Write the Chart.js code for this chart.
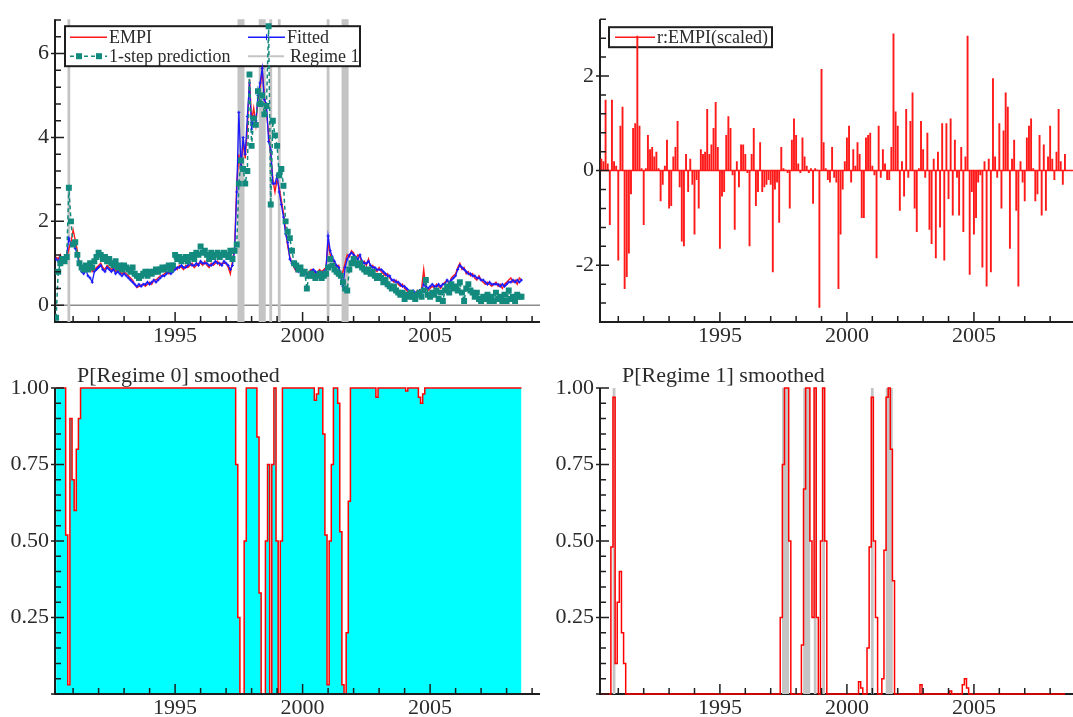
<!DOCTYPE html>
<html>
<head>
<meta charset="utf-8">
<title>EMPI regime-switching model</title>
<script src="https://cdn.jsdelivr.net/npm/chart.js@4.4.1/dist/chart.umd.min.js"></script>
<style>
  html, body { margin: 0; padding: 0; background: #fff; }
  #wrap { position: relative; width: 1073px; height: 717px; overflow: hidden; }
  #wrap canvas { position: absolute; display: block; }
</style>
</head>
<body>
<div id="wrap">
  <canvas id="c1" width="545" height="352" style="left:0;top:0"></canvas>
  <canvas id="c2" width="528" height="352" style="left:545px;top:0"></canvas>
  <canvas id="c3" width="545" height="362" style="left:0;top:355px"></canvas>
  <canvas id="c4" width="528" height="362" style="left:545px;top:355px"></canvas>
</div>
<script>
// Monthly observations, May 1990 .. Aug 2008
const startYear = 1990;
const startMonth = 5;

const empi = [
  1.15, 1.1, 1.2, 1.05, 1.15, 1.1, 1.35, 1.5,
  1.8, 1.55, 1.3, 1.0, 0.85, 0.8, 0.9, 0.85, 0.95, 0.8, 0.85, 0.9,
  0.95, 1.0, 0.9, 0.85, 0.95, 0.9, 0.85, 0.9, 0.8, 0.85, 0.8, 0.75,
  0.8, 0.75, 0.7, 0.65, 0.6, 0.5, 0.42, 0.45, 0.48, 0.5, 0.45, 0.5,
  0.55, 0.5, 0.6, 0.6, 0.65, 0.7, 0.7, 0.75, 0.8, 0.75, 0.8, 0.85,
  0.9, 0.85, 0.95, 0.9, 0.85, 0.95, 0.9, 0.95, 1.0, 0.9, 0.95, 1.0,
  1.0, 0.95, 1.05, 0.95, 0.9, 1.0, 0.95, 1.0, 1.05, 0.95, 1.0, 1.0,
  1.0, 0.9, 0.75, 1.05, 1.35, 2.9, 3.6, 3.2, 3.9, 3.5, 4.2, 5.4,
  4.4, 4.7, 4.3, 4.9, 5.2, 5.6, 5.0, 4.6, 4.1, 3.6, 3.0, 2.7,
  3.0, 2.8, 2.5, 2.2, 1.8, 1.4, 1.15, 1.0, 0.9, 0.8, 0.85, 0.9,
  0.8, 0.85, 0.75, 0.8, 0.85, 0.8, 0.75, 0.8, 0.85, 0.8, 0.85, 0.9,
  1.5, 1.2, 1.1, 1.0, 0.9, 0.95, 0.7, 0.8, 1.0, 1.2, 1.15, 1.3,
  1.25, 1.1, 1.2, 1.15, 1.0, 1.05, 0.95, 1.1, 0.9, 0.95, 0.85, 0.8,
  0.9, 0.8, 0.75, 0.7, 0.75, 0.65, 0.6, 0.55, 0.6, 0.5, 0.45, 0.5,
  0.4, 0.35, 0.3, 0.35, 0.3, 0.25, 0.35, 0.3, 0.4, 0.85, 0.4, 0.35,
  0.4, 0.45, 0.4, 0.5, 0.45, 0.4, 0.5, 0.55, 0.6, 0.5, 0.65, 0.7,
  0.75, 0.9, 1.0, 0.85, 0.9, 0.75, 0.8, 0.7, 0.75, 0.65, 0.6, 0.7,
  0.6, 0.55, 0.5, 0.55, 0.5, 0.45, 0.5, 0.55, 0.45, 0.5, 0.4, 0.5,
  0.55, 0.6, 0.65, 0.55, 0.6, 0.5, 0.65, 0.6
];

const fitted = [
  1.1, 1.05, 1.15, 1.0, 1.1, 1.2, 1.6, 1.45,
  1.5, 1.35, 1.2, 0.95, 0.8, 0.75, 0.85, 0.7, 0.65, 0.55, 0.8, 0.85,
  0.9, 0.95, 0.85, 0.8, 0.9, 0.85, 0.8, 0.85, 0.75, 0.8, 0.75, 0.7,
  0.75, 0.7, 0.65, 0.6, 0.55, 0.5, 0.45, 0.5, 0.45, 0.5, 0.5, 0.55,
  0.5, 0.55, 0.6, 0.55, 0.6, 0.65, 0.7, 0.7, 0.75, 0.8, 0.75, 0.8,
  0.85, 0.9, 0.9, 0.95, 0.9, 0.9, 0.95, 1.0, 0.95, 0.95, 1.0, 0.95,
  1.05, 1.0, 1.0, 1.0, 0.95, 0.95, 1.0, 1.05, 1.0, 1.0, 0.95, 1.05,
  1.0, 0.95, 0.85, 0.95, 1.3, 2.7, 4.6, 3.3, 4.0, 3.6, 4.5, 5.3,
  4.2, 4.5, 4.4, 5.0, 5.3, 5.65, 4.9, 4.8, 3.9, 3.7, 2.9, 2.9,
  3.1, 2.7, 2.4, 2.1, 1.7, 1.5, 1.1, 1.0, 0.95, 0.85, 0.8, 0.9,
  0.85, 0.8, 0.7, 0.75, 0.8, 0.85, 0.8, 0.75, 0.8, 0.75, 0.8, 0.85,
  1.65, 1.3, 1.15, 1.05, 0.95, 0.9, 0.75, 0.45, 0.9, 1.1, 1.2, 1.25,
  1.2, 1.15, 1.1, 1.2, 1.05, 1.0, 1.0, 1.05, 0.95, 0.9, 0.9, 0.85,
  0.85, 0.85, 0.8, 0.75, 0.7, 0.7, 0.6, 0.6, 0.55, 0.55, 0.5, 0.45,
  0.45, 0.4, 0.35, 0.3, 0.35, 0.3, 0.3, 0.35, 0.35, 0.5, 0.45, 0.4,
  0.45, 0.5, 0.45, 0.45, 0.5, 0.45, 0.5, 0.5, 0.6, 0.55, 0.6, 0.65,
  0.7, 0.85, 0.95, 0.9, 0.85, 0.8, 0.75, 0.75, 0.7, 0.7, 0.65, 0.65,
  0.6, 0.6, 0.55, 0.5, 0.55, 0.5, 0.5, 0.5, 0.5, 0.45, 0.5, 0.45,
  0.5, 0.55, 0.55, 0.6, 0.55, 0.6, 0.55, 0.6
];

const prediction = [
  -0.3, 0.8, 1.0, 1.1, 1.05, 1.15, 2.8, 2.0,
  1.45, 1.5, 1.2, 1.0, 0.9, 0.85, 0.95, 0.85, 1.0, 0.9, 1.05, 1.15,
  1.25, 1.2, 1.1, 1.15, 1.05, 1.1, 1.0, 0.95, 1.05, 0.9, 0.95, 0.85,
  0.95, 0.9, 0.85, 0.8, 0.9, 0.75, 0.7, 0.65, 0.7, 0.75, 0.8, 0.7,
  0.8, 0.75, 0.8, 0.85, 0.8, 0.85, 0.9, 0.85, 0.9, 0.95, 0.85, 0.95,
  1.2, 1.1, 1.15, 1.05, 1.1, 1.15, 1.05, 1.15, 1.2, 1.1, 1.25, 1.2,
  1.4, 1.25, 1.3, 1.2, 1.1, 1.25, 1.15, 1.2, 1.25, 1.15, 1.2, 1.25,
  1.2, 1.15, 1.3, 1.1, 1.3, 1.45, 2.9, 3.45, 3.25, 2.9, 3.2, 5.5,
  3.8, 4.45, 4.3, 5.1, 4.8, 5.0, 4.55, 4.75, 6.65, 2.4, 4.4, 4.05,
  3.8, 3.1, 3.25, 2.85, 2.0, 1.75, 1.6, 1.3, 1.0, 0.95, 0.85, 0.9,
  0.75, 0.8, 0.4, 0.7, 0.75, 0.7, 0.65, 0.7, 0.75, 0.65, 0.7, 0.75,
  0.9, 1.1, 0.95, 0.85, 0.8, 0.75, 0.7, 0.55, 0.4, 0.35, 0.85, 1.0,
  1.1, 1.0, 0.95, 1.0, 0.9, 0.85, 0.8, 0.85, 0.75, 0.8, 0.7, 0.65,
  0.7, 0.65, 0.55, 0.6, 0.5, 0.45, 0.4, 0.45, 0.35, 0.3, 0.25, 0.3,
  0.15, 0.25, 0.2, 0.3, 0.2, 0.15, 0.25, 0.3, 0.2, 0.35, 0.6, 0.25,
  0.2, 0.3, 0.25, 0.35, 0.15, 0.3, 0.1, 0.35, 0.45, 0.3, 0.5, 0.4,
  0.45, 0.35, 0.55, 0.3, 0.1, 0.4, 0.5, 0.35, 0.3, 0.2, 0.3, 0.15,
  0.1, 0.2, 0.15, 0.25, 0.1, 0.2, 0.1, 0.3, 0.15, 0.2, 0.1, 0.25,
  0.1, 0.35, 0.15, 0.2, 0.1, 0.25, 0.2, 0.2
];

const residual = [
  0.25, 0.2, 1.5, 0.15, -1.15, 1.5, 0.2, 0.1,
  -1.9, 0.95, 1.35, -2.5, -2.25, -1.75, -0.5, 0.9, 1.0, 2.85, 0.95, 0.05,
  -1.15, 0.05, 0.75, 0.45, 0.5, 0.3, 0.4, 0.05, -0.65, -0.3, 0.1, 0.65,
  -0.8, -0.75, 0.3, 0.5, 1.05, -0.35, -1.5, -1.6, 0.35, -0.45, 0.25, -0.3,
  -1.35, -0.2, -0.8, 0.45, 0.35, 0.4, 1.3, 0.35, 0.55, 0.9, 1.45, 0.5,
  -1.65, -0.55, -0.45, 0.75, 1.15, 0.9, -0.1, -1.25, 0.2, -0.35, 0.55, 0.55,
  0.35, -0.05, -1.6, 0.35, 0.9, -0.75, -0.45, 0.6, -0.45, -0.35, -0.3, -0.2,
  -0.3, -2.15, -0.4, -0.25, -1.1, 0.5, 0.05, 0.02, -0.05, -0.8, 0.65, 1.1,
  0.75, 0.15, -0.05, 0.7, 0.3, 0.1, -0.05, 0.05, -0.7, 0.05, 0.02, -2.9,
  2.15, 0.6, 0.05, -0.2, -0.25, 0.5, -0.15, -0.25, -2.5, -1.35, -0.4, 0.2,
  0.7, 0.95, -0.25, 0.45, 0.1, 0.6, 0.35, -1.0, -1.0, 0.7, 0.75, 0.8,
  0.1, -0.1, -1.85, 0.95, -0.15, 0.45, 0.15, -0.2, -0.2, 0.5, 2.9, 1.25,
  0.95, -0.85, 0.2, -0.55, 1.3, -0.15, 1.05, 1.65, -0.8, -1.3, 0.05, 1.05,
  0.45, -0.15, 0.8, -1.25, -1.55, 0.25, -1.85, 0.4, -1.2, 1.0, -1.9, 1.0,
  -0.6, 1.1, -0.95, 0.65, -0.15, -0.95, 0.5, -1.3, 0.3, 2.85, -2.2, -0.45,
  -1.35, -1.0, -0.25, -0.1, -2.05, 0.2, -2.45, 0.25, -2.15, 1.95, 0.3, -0.15,
  1.0, -0.8, 0.85, 1.65, 1.35, -1.65, 0.25, 0.65, -0.85, -2.45, 0.2, -0.25,
  -0.65, 0.7, 0.95, 1.1, 0.05, -0.65, -0.5, 0.75, -0.95, 0.55, -0.85, 0.3,
  0.95, 0.25, -0.2, 0.4, 1.3, 0.2, -0.3, 0.35
];

const pRegime0 = [
  1, 1, 1, 1, 1, 0.52, 0.03, 0.9,
  0.7, 0.6, 0.8, 0.9, 1, 1, 1, 1, 1, 1, 1, 1,
  1, 1, 1, 1, 1, 1, 1, 1, 1, 1, 1, 1,
  1, 1, 1, 1, 1, 1, 1, 1, 1, 1, 1, 1,
  1, 1, 1, 1, 1, 1, 1, 1, 1, 1, 1, 1,
  1, 1, 1, 1, 1, 1, 1, 1, 1, 1, 1, 1,
  1, 1, 1, 1, 1, 1, 1, 1, 1, 1, 1, 1,
  1, 1, 1, 1, 1, 0.75, 0.25, 0, 0, 0.5, 1, 1,
  1, 1, 1, 0.84, 0.33, 0, 0, 0.5, 0.75, 0, 0.75, 1,
  0.5, 0, 0.5, 1, 1, 1, 1, 1, 1, 1, 1, 1,
  1, 1, 1, 1, 1, 1, 0.96, 0.98, 1, 1, 0.85, 0.52,
  0.03, 0.5, 0.75, 1, 1, 0.95, 0.53, 0.03, 0, 0.2, 0.63, 1,
  1, 1, 1, 1, 1, 1, 1, 1, 1, 1, 1, 0.97,
  1, 1, 1, 1, 1, 1, 1, 1, 1, 1, 1, 1,
  1, 0.99, 1, 1, 1, 1, 1, 0.97, 0.95, 0.98, 1, 1,
  1, 1, 1, 1, 1, 1, 1, 1, 1, 1, 1, 1,
  1, 1, 1, 1, 1, 1, 1, 1, 1, 1, 1, 1,
  1, 1, 1, 1, 1, 1, 1, 1, 1, 1, 1, 1,
  1, 1, 1, 1, 1, 1, 1, 1
];

const pRegime1 = [
  0, 0, 0, 0, 0, 0.48, 0.97, 0.1,
  0.3, 0.4, 0.2, 0.1, 0, 0, 0, 0, 0, 0, 0, 0,
  0, 0, 0, 0, 0, 0, 0, 0, 0, 0, 0, 0,
  0, 0, 0, 0, 0, 0, 0, 0, 0, 0, 0, 0,
  0, 0, 0, 0, 0, 0, 0, 0, 0, 0, 0, 0,
  0, 0, 0, 0, 0, 0, 0, 0, 0, 0, 0, 0,
  0, 0, 0, 0, 0, 0, 0, 0, 0, 0, 0, 0,
  0, 0, 0, 0, 0, 0.25, 0.75, 1, 1, 0.5, 0, 0,
  0, 0, 0, 0.16, 0.67, 1, 1, 0.5, 0.25, 1, 0.25, 0,
  0.5, 1, 0.5, 0, 0, 0, 0, 0, 0, 0, 0, 0,
  0, 0, 0, 0, 0, 0, 0.04, 0.02, 0, 0, 0.15, 0.48,
  0.97, 0.5, 0.25, 0, 0, 0.05, 0.47, 0.97, 1, 0.8, 0.37, 0,
  0, 0, 0, 0, 0, 0, 0, 0, 0, 0, 0, 0.03,
  0, 0, 0, 0, 0, 0, 0, 0, 0, 0, 0, 0,
  0, 0.01, 0, 0, 0, 0, 0, 0.03, 0.05, 0.02, 0, 0,
  0, 0, 0, 0, 0, 0, 0, 0, 0, 0, 0, 0,
  0, 0, 0, 0, 0, 0, 0, 0, 0, 0, 0, 0,
  0, 0, 0, 0, 0, 0, 0, 0, 0, 0, 0, 0,
  0, 0, 0, 0, 0, 0, 0, 0
];

// months classified as regime 1 (grey bands)
const regime1Months = [
  '1990-11', '1997-07', '1997-08', '1997-09', '1998-05', '1998-06', '1998-07',
  '1998-10', '1999-02', '2001-01', '2001-08', '2001-09', '2001-10'
];

const majorYears = [1995, 2000, 2005];

// --- styling ---
const TEXT = '#2b2b2b';
const AXIS = '#1e1e1e';
const SERIF = "'Liberation Serif', 'DejaVu Serif', serif";
const TICK_FONT = { family: SERIF, size: 22 };
const RED = '#ff1a1a';
const BLUE = '#1a1aff';
const TEAL = '#138a7e';
const BAND = '#c4c4c4';

Chart.defaults.font.family = SERIF;

const dates = empi.map((_, i) => startYear + (startMonth - 1 + i) / 12);
const regimeX = regime1Months.map(s => {
  const [yy, mm] = s.split('-').map(Number);
  return yy + (mm - 1) / 12;
});
const pts = values => values.map((v, i) => ({ x: dates[i], y: v }));
const bands = (lo, hi) => regimeX.map(x => ({ x, y: [lo, hi] }));

function tickValues(min, max, step) {
  const out = [];
  for (let k = Math.ceil(min / step - 1e-9); k * step <= max + 1e-9; k++) {
    out.push(+(k * step).toFixed(6));
  }
  return out;
}
const isMultiple = (v, step) => Math.abs(v / step - Math.round(v / step)) < 1e-6;

function xAxis(min, max, height) {
  return {
    type: 'linear', min, max, offset: false,
    grid: { display: false, drawTicks: false },
    border: { display: false },
    afterBuildTicks: s => { s.ticks = tickValues(min, max, 1).map(v => ({ value: v })); },
    afterFit: s => { s.height = height; },
    ticks: {
      autoSkip: false, maxRotation: 0, minRotation: 0, padding: 1,
      color: TEXT, font: TICK_FONT,
      callback: v => majorYears.includes(v) ? String(v) : ''
    }
  };
}

function yAxis(min, max, step, major, fmt) {
  return {
    type: 'linear', min, max,
    grid: { display: false, drawTicks: false },
    border: { display: false },
    afterBuildTicks: s => { s.ticks = tickValues(min, max, step).map(v => ({ value: v })); },
    afterFit: s => { s.width = 55; },
    ticks: {
      autoSkip: false, padding: 6, color: TEXT, font: TICK_FONT,
      callback: v => fmt(v)
    }
  };
}

function drawLegend(chart, lg) {
  const { ctx, chartArea: a } = chart;
  const bx = a.left + lg.x, by = a.top + lg.y;
  ctx.save();
  ctx.fillStyle = '#fff';
  ctx.fillRect(bx, by, lg.w, lg.h);
  ctx.strokeStyle = AXIS;
  ctx.lineWidth = 2;
  ctx.strokeRect(bx, by, lg.w, lg.h);
  ctx.font = '18px ' + SERIF;
  ctx.textBaseline = 'middle';
  lg.items.forEach(it => {
    const x0 = bx + it.x, x1 = x0 + it.len, yy = by + it.y;
    ctx.strokeStyle = it.color;
    ctx.lineWidth = it.width;
    ctx.setLineDash(it.dash ? [4, 3] : []);
    ctx.beginPath();
    ctx.moveTo(x0, yy);
    ctx.lineTo(x1, yy);
    ctx.stroke();
    ctx.setLineDash([]);
    if (it.marker === 'rect') {
      ctx.fillStyle = it.color;
      [9, 29].forEach(d => ctx.fillRect(x0 + d - 3, yy - 3, 6, 6));
    } else if (it.marker === 'cross') {
      ctx.lineWidth = 1;
      ctx.beginPath();
      ctx.moveTo(x0 + it.len / 2, yy - 3);
      ctx.lineTo(x0 + it.len / 2, yy + 3);
      ctx.stroke();
    }
    ctx.fillStyle = TEXT;
    ctx.fillText(it.text, x1 + it.gap, yy + 1);
  });
  ctx.restore();
}

function drawAxes(chart) {
  const { ctx, chartArea: a } = chart;
  ctx.save();
  ctx.strokeStyle = AXIS;
  ctx.lineWidth = 2;
  ctx.beginPath();
  ctx.moveTo(a.left, a.top);
  ctx.lineTo(a.left, a.bottom);
  ctx.lineTo(a.right, a.bottom);
  ctx.stroke();
  ctx.restore();
}

// PcGive style frame: zero line, axes, inward ticks, titles and legend boxes
const pcFrame = {
  id: 'pcFrame',
  beforeDatasetsDraw(chart, args, o) {
    const { ctx, chartArea: a, scales: { y } } = chart;
    if (o.zeroColor) {
      const py = y.getPixelForValue(0);
      ctx.save();
      ctx.strokeStyle = o.zeroColor;
      ctx.lineWidth = 1.5;
      ctx.beginPath();
      ctx.moveTo(a.left, py);
      ctx.lineTo(a.right, py);
      ctx.stroke();
      ctx.restore();
    }
    if (!o.axesOnTop) drawAxes(chart);
    if (o.title) {
      ctx.save();
      ctx.font = '22px ' + SERIF;
      ctx.fillStyle = TEXT;
      ctx.textBaseline = 'alphabetic';
      ctx.fillText(o.title, a.left + 22, a.top - 6);
      ctx.restore();
    }
    if (o.legend && o.legend.afterIndex < 0) drawLegend(chart, o.legend);
  },
  afterDatasetDraw(chart, args, o) {
    if (o.legend && args.index === o.legend.afterIndex) drawLegend(chart, o.legend);
  },
  afterDraw(chart, args, o) {
    const { ctx, chartArea: a, scales: { x, y } } = chart;
    if (o.axesOnTop) drawAxes(chart);
    ctx.save();
    ctx.strokeStyle = AXIS;
    ctx.lineWidth = 1.5;
    ctx.beginPath();
    x.ticks.forEach(t => {
      const px = x.getPixelForValue(t.value);
      const major = isMultiple(t.value, o.xMajor);
      ctx.moveTo(px, a.bottom);
      ctx.lineTo(px, a.bottom - (major ? 10 : 6));
    });
    y.ticks.forEach(t => {
      const py = y.getPixelForValue(t.value);
      const major = isMultiple(t.value, o.yMajor);
      ctx.moveTo(a.left - (major ? 4 : 0), py);
      ctx.lineTo(a.left + (major ? 9 : 6), py);
    });
    ctx.stroke();
    ctx.restore();
  }
};

const baseOptions = (padding) => ({
  responsive: false,
  animation: false,
  events: [],
  devicePixelRatio: 1,
  layout: { padding },
  plugins: { legend: { display: false }, tooltip: { enabled: false } }
});

// Panel 1: EMPI, fitted values and 1-step predictions
const Y1_MIN = -0.4, Y1_MAX = 6.82;
const opt1 = baseOptions({ top: 15, right: 5, left: 0, bottom: 0 });
opt1.scales = {
  x: xAxis(1990.29, 2009.31, 30),
  y: yAxis(Y1_MIN, Y1_MAX, 0.4, 2, v => isMultiple(v, 2) ? String(v) : '')
};
opt1.plugins.pcFrame = {
  xMajor: 5, yMajor: 2, zeroColor: '#8c8c8c',
  legend: {
    afterIndex: 0, x: 10, y: 7, w: 295, h: 40,
    items: [
      { text: 'EMPI', x: 5, len: 37, y: 11, color: RED, width: 1.5, gap: 2 },
      { text: 'Fitted', x: 183, len: 37, y: 11, color: BLUE, width: 1.5, gap: 2, marker: 'cross' },
      { text: '1-step prediction', x: 5, len: 37, y: 30, color: TEAL, width: 1.5, gap: 2, dash: true, marker: 'rect' },
      { text: 'Regime 1', x: 183, len: 36, y: 30, color: BAND, width: 2, gap: 6 }
    ]
  }
};

new Chart(document.getElementById('c1'), {
  type: 'line',
  data: {
    datasets: [
      {
        type: 'bar', label: 'Regime 1', data: bands(Y1_MIN, Y1_MAX),
        backgroundColor: BAND, borderWidth: 0,
        barPercentage: 1, categoryPercentage: 1, order: 10
      },
      {
        label: 'EMPI', data: pts(empi), borderColor: RED, borderWidth: 1.4,
        pointRadius: 0, order: 3
      },
      {
        label: 'Fitted', data: pts(fitted), borderColor: BLUE, borderWidth: 1.3,
        pointRadius: 1.5, pointStyle: 'cross', pointBorderColor: BLUE, pointBorderWidth: 1, order: 2
      },
      {
        label: '1-step prediction', data: pts(prediction), borderColor: TEAL, borderWidth: 1.5,
        borderDash: [4, 3], pointRadius: 4.2, pointStyle: 'rect',
        pointBackgroundColor: TEAL, pointBorderColor: TEAL, pointBorderWidth: 0, order: 1
      }
    ]
  },
  options: opt1,
  plugins: [pcFrame]
});

// Panel 2: scaled residuals
const opt2 = baseOptions({ top: 15, right: 0, left: 0, bottom: 0 });
opt2.scales = {
  x: xAxis(1990.28, 2008.9, 30),
  y: yAxis(-3.2, 3.2, 0.4, 2, v => isMultiple(v, 2) ? String(v) : '')
};
opt2.plugins.pcFrame = {
  xMajor: 5, yMajor: 2, zeroColor: RED,
  legend: {
    afterIndex: -1, x: 9, y: 8, w: 163, h: 20,
    items: [
      { text: 'r:EMPI(scaled)', x: 6, len: 40, y: 10, color: RED, width: 1.5, gap: 2 }
    ]
  }
};

new Chart(document.getElementById('c2'), {
  type: 'bar',
  data: {
    datasets: [{
      label: 'r:EMPI(scaled)', data: pts(residual),
      backgroundColor: RED, borderWidth: 0,
      barPercentage: 0.9, categoryPercentage: 1
    }]
  },
  options: opt2,
  plugins: [pcFrame]
});

// Panels 3 and 4: smoothed regime probabilities
const probFmt = v => (v > 0 && isMultiple(v, 0.25)) ? v.toFixed(2) : '';

const opt3 = baseOptions({ top: 33, right: 5, left: 0, bottom: 0 });
opt3.scales = { x: xAxis(1990.29, 2009.31, 23), y: yAxis(0, 1, 0.05, 0.25, probFmt) };
opt3.plugins.pcFrame = { xMajor: 5, yMajor: 0.25, title: 'P[Regime 0] smoothed', axesOnTop: true };

new Chart(document.getElementById('c3'), {
  type: 'line',
  data: {
    datasets: [{
      label: 'P[Regime 0] smoothed', data: pts(pRegime0),
      stepped: 'middle', borderColor: '#ff0000', borderWidth: 1.5,
      fill: 'origin', backgroundColor: '#00ffff', pointRadius: 0, clip: 4
    }]
  },
  options: opt3,
  plugins: [pcFrame]
});

const opt4 = baseOptions({ top: 33, right: 0, left: 0, bottom: 0 });
opt4.scales = { x: xAxis(1990.28, 2008.9, 23), y: yAxis(0, 1, 0.05, 0.25, probFmt) };
opt4.plugins.pcFrame = { xMajor: 5, yMajor: 0.25, title: 'P[Regime 1] smoothed' };

new Chart(document.getElementById('c4'), {
  type: 'line',
  data: {
    datasets: [
      {
        type: 'bar', label: 'Regime 1', data: bands(0, 1),
        backgroundColor: BAND, borderWidth: 0,
        barPercentage: 1, categoryPercentage: 1, order: 10
      },
      {
        label: 'P[Regime 1] smoothed', data: pts(pRegime1),
        stepped: 'middle', borderColor: '#ff0000', borderWidth: 1.5,
        pointRadius: 0, fill: false, clip: 4, order: 1
      }
    ]
  },
  options: opt4,
  plugins: [pcFrame]
});
</script>
</body>
</html>
